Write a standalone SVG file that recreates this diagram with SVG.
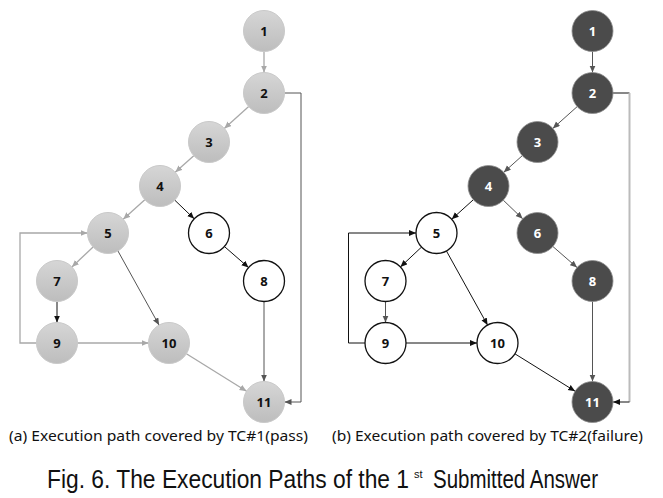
<svg xmlns="http://www.w3.org/2000/svg" width="663" height="498" viewBox="0 0 663 498">
<defs>
<linearGradient id="gg" x1="0" y1="0" x2="0" y2="1">
<stop offset="0" stop-color="#d6d6d6"/>
<stop offset="1" stop-color="#bdbdbd"/>
</linearGradient>
<marker id="aG" markerUnits="userSpaceOnUse" markerWidth="8" markerHeight="7" refX="7" refY="3" orient="auto"><path d="M0,0 L7,3 L0,6 z" fill="#a8a8a8"/></marker>
<marker id="aK" markerUnits="userSpaceOnUse" markerWidth="8" markerHeight="7" refX="7" refY="3" orient="auto"><path d="M0,0 L7,3 L0,6 z" fill="#111"/></marker>
<marker id="aD" markerUnits="userSpaceOnUse" markerWidth="8" markerHeight="7" refX="7" refY="3" orient="auto"><path d="M0,0 L7,3 L0,6 z" fill="#555"/></marker>
</defs>
<style>
.g{fill:url(#gg);stroke:#c9c9c9;stroke-width:1}
.w{fill:#fff;stroke:#111;stroke-width:1.3}
.d{fill:#4b4b4b;stroke:#8a8a8a;stroke-width:0.8}
.t{font-family:"Noto Sans","Open Sans",sans-serif;font-weight:bold;font-size:13px;text-anchor:middle;fill:#111}
.tw{font-family:"Noto Sans","Open Sans",sans-serif;font-weight:bold;font-size:13px;text-anchor:middle;fill:#fff}
.eG{fill:none;stroke:#a8a8a8;stroke-width:1.3;marker-end:url(#aG)}
.eK{fill:none;stroke:#111;stroke-width:1;marker-end:url(#aK)}
.eD{fill:none;stroke:#555;stroke-width:1;marker-end:url(#aD)}
.cap{font-family:"Noto Sans","Open Sans",sans-serif;font-size:14.5px;fill:#111}
.ttl{font-family:"Liberation Sans",sans-serif;font-size:25px;fill:#111}
</style>

<!-- Panel (a) -->
<g id="panel-a">
<g id="a-connectors">
<path class="eG" d="M264,51.5 V72.5"/>
<path class="eG" d="M248.7,106.6 L224.3,128.4"/>
<path class="eG" d="M193.75,155.7 L175.25,172.3"/>
<path class="eG" d="M144.8,199.75 L123.2,219.25"/>
<path class="eK" d="M174.8,200.2 L194.2,218.8"/>
<path class="eG" d="M93.1,247 L71.9,266.95"/>
<path class="eD" d="M117.9,250.9 L159.06,325.07"/>
<path class="eK" d="M224.4,246.5 L248.56,267.52"/>
<path class="eK" d="M57,301.5 V322.5"/>
<path class="eD" d="M264,301.5 V381.5"/>
<path class="eG" d="M77.5,343 H148.5"/>
<path class="eG" d="M186.4,353.8 L246.6,391.2"/>
<path class="eD" d="M284.5,93 H301 V402 H284.5"/>
<path class="eG" d="M36.5,343 H20 V233 H87.5"/>
</g>
<g id="a-n1"><circle class="g" cx="264" cy="31" r="20.5"/><text class="t" x="264" y="35.5">1</text></g>
<g id="a-n2"><circle class="g" cx="264" cy="93" r="20.5"/><text class="t" x="264" y="97.5">2</text></g>
<g id="a-n3"><circle class="g" cx="209" cy="142" r="20.5"/><text class="t" x="209" y="146.5">3</text></g>
<g id="a-n4"><circle class="g" cx="160" cy="186" r="20.5"/><text class="t" x="160" y="190.5">4</text></g>
<g id="a-n5"><circle class="g" cx="108" cy="233" r="20.5"/><text class="t" x="108" y="237.5">5</text></g>
<g id="a-n6"><circle class="w" cx="209" cy="233" r="20.5"/><text class="t" x="209" y="237.5">6</text></g>
<g id="a-n7"><circle class="g" cx="57" cy="281" r="20.5"/><text class="t" x="57" y="285.5">7</text></g>
<g id="a-n8"><circle class="w" cx="264" cy="281" r="20.5"/><text class="t" x="264" y="285.5">8</text></g>
<g id="a-n9"><circle class="g" cx="57" cy="343" r="20.5"/><text class="t" x="57" y="347.5">9</text></g>
<g id="a-n10"><circle class="g" cx="169" cy="343" r="20.5"/><text class="t" x="169" y="347.5">10</text></g>
<g id="a-n11"><circle class="g" cx="264" cy="402" r="20.5"/><text class="t" x="264" y="406.5">11</text></g>
</g>

<!-- Panel (b) -->
<g id="panel-b" transform="translate(328.5,0)">
<g id="b-connectors">
<path class="eD" d="M264,51.5 V72.5"/>
<path class="eD" d="M248.7,106.6 L224.3,128.4"/>
<path class="eD" d="M193.75,155.7 L175.25,172.3"/>
<path class="eK" d="M144.8,199.75 L123.2,219.25"/>
<path class="eD" d="M174.8,200.2 L194.2,218.8"/>
<path class="eK" d="M93.1,247 L71.9,266.95"/>
<path class="eK" d="M117.9,250.9 L159.06,325.07"/>
<path class="eD" d="M224.4,246.5 L248.56,267.52"/>
<path class="eD" d="M57,301.5 V322.5"/>
<path class="eD" d="M264,301.5 V381.5"/>
<path class="eK" d="M77.5,343 H148.5"/>
<path class="eK" d="M186.4,353.8 L246.6,391.2"/>
<path d="M284.5,93 H301" fill="none" stroke="#111" stroke-width="1"/>
<path d="M301,93 V402" fill="none" stroke="#bbb" stroke-width="2"/>
<path class="eK" d="M301,402 H284.5"/>
<path class="eK" d="M36.5,343 H20 V233 H87.5"/>
</g>
<g id="b-n1"><circle class="d" cx="264" cy="31" r="20.5"/><text class="tw" x="264" y="35.5">1</text></g>
<g id="b-n2"><circle class="d" cx="264" cy="93" r="20.5"/><text class="tw" x="264" y="97.5">2</text></g>
<g id="b-n3"><circle class="d" cx="209" cy="142" r="20.5"/><text class="tw" x="209" y="146.5">3</text></g>
<g id="b-n4"><circle class="d" cx="160" cy="186" r="20.5"/><text class="tw" x="160" y="190.5">4</text></g>
<g id="b-n5"><circle class="w" cx="108" cy="233" r="20.5"/><text class="t" x="108" y="237.5">5</text></g>
<g id="b-n6"><circle class="d" cx="209" cy="233" r="20.5"/><text class="tw" x="209" y="237.5">6</text></g>
<g id="b-n7"><circle class="w" cx="57" cy="281" r="20.5"/><text class="t" x="57" y="285.5">7</text></g>
<g id="b-n8"><circle class="d" cx="264" cy="281" r="20.5"/><text class="tw" x="264" y="285.5">8</text></g>
<g id="b-n9"><circle class="w" cx="57" cy="343" r="20.5"/><text class="t" x="57" y="347.5">9</text></g>
<g id="b-n10"><circle class="w" cx="169" cy="343" r="20.5"/><text class="t" x="169" y="347.5">10</text></g>
<g id="b-n11"><circle class="d" cx="264" cy="402" r="20.5"/><text class="tw" x="264" y="406.5">11</text></g>
</g>

<text class="cap" x="9" y="441" textLength="299" lengthAdjust="spacingAndGlyphs">(a) Execution path covered by TC#1(pass)</text>
<text class="cap" x="332" y="441" textLength="311" lengthAdjust="spacingAndGlyphs">(b) Execution path covered by TC#2(failure)</text>

<text class="ttl"><tspan x="47" y="488" textLength="362" lengthAdjust="spacingAndGlyphs">Fig. 6. The Execution Paths of the 1</tspan><tspan x="414" y="478" font-size="11">st</tspan><tspan x="433" y="488" textLength="165" lengthAdjust="spacingAndGlyphs">Submitted Answer</tspan></text>
</svg>
